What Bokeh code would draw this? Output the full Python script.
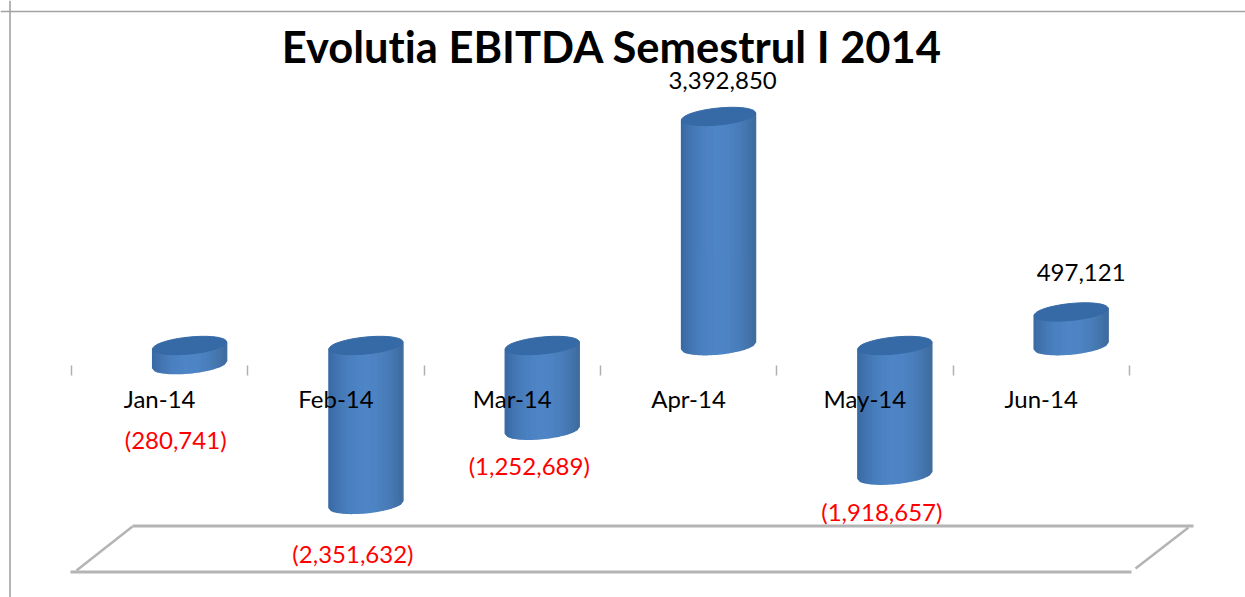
import math
from bokeh.plotting import figure
from bokeh.embed import file_html
from bokeh.resources import INLINE
from bokeh.core.properties import value
from bokeh.models import Range1d, FixedTicker, LinearAxis, Span

# ---- data ----
title_text = "Evolutia EBITDA Semestrul I 2014"
months = ["Jan-14", "Feb-14", "Mar-14", "Apr-14", "May-14", "Jun-14"]
ebitda = [-280741, -2351632, -1252689, 3392850, -1918657, 497121]

# ---- layout (page pixels of the reference) ----
W, H = 1245, 597
PAD = 0
ZERO_PX, PX_PER_UNIT = 345.0, 67.5e-6
TICK0_PX, CAT_PX = 71.0, 176.3
TICK_ROW_PX = 370
BAR_SHIFT_PX, BAR_A, BAR_B, BAR_TILT = 30.0, 37.0, 8.5, 3.5
# data-label placement relative to the end of each bar, in pixels
label_dx = [-14, -13, -13, 4, -13, 10]
label_dy = [75, 49, 35, -36, 36, -39]

def X(px):
    return (px - TICK0_PX) / CAT_PX
def Y(py):
    return (ZERO_PX - py) / PX_PER_UNIT

p = figure(width=W, height=H, output_backend="svg", toolbar_location=None,
           x_range=Range1d(X(PAD), X(PAD + W)), y_range=Range1d(Y(PAD + H), Y(PAD)),
           y_axis_location=None, min_border=0, outline_line_color=None,
           background_fill_color="white", border_fill_color="white")
p.grid.visible = False

# chart frame
BORDER = "#a3a3a3"
p.add_layout(Span(location=Y(11), dimension="width", line_color=BORDER, line_width=1.6))
p.add_layout(Span(location=X(9.5), dimension="height", line_color=BORDER, line_width=1.6))

# floor
FLOOR = "#b4b4b4"
p.line([X(132), X(1193)], [Y(525.5)] * 2, line_color=FLOOR, line_width=3)
p.line([X(70), X(1131)], [Y(571.5)] * 2, line_color=FLOOR, line_width=3)
p.line([X(76), X(132)], [Y(570), Y(526)], line_color=FLOOR, line_width=2.5)
p.line([X(1135), X(1188)], [Y(568), Y(527)], line_color=FLOOR, line_width=2.5)

# cylinders, one gradient strip at a time
def shade(t):
    k = math.sin((t + 1) / 2 * math.pi) ** 0.8
    edge = (56, 103, 160) if t < 0 else (62, 106, 156)
    mid = (78, 133, 198)
    return "#%02x%02x%02x" % tuple(round(e + (m - e) * k) for e, m in zip(edge, mid))

N = 30
sx, sy, sc = [], [], []
ex, ey = [], []
for i, v in enumerate(ebitda):
    cx = TICK0_PX + CAT_PX * (i + 0.5) + BAR_SHIFT_PX
    top_v, bot_v = max(v, 0), min(v, 0)
    top_c, bot_c = ZERO_PX - top_v * PX_PER_UNIT, ZERO_PX - bot_v * PX_PER_UNIT
    def bottom(t):
        return bot_c - BAR_TILT * t + BAR_B * math.sqrt(max(0, 1 - t * t))
    def upper(t):
        return top_c - BAR_TILT * t
    for k in range(N):
        t0, t1 = -1 + 2 * k / N, -1 + 2 * (k + 1) / N
        sx.append([X(cx + BAR_A * t0), X(cx + BAR_A * t1), X(cx + BAR_A * t1), X(cx + BAR_A * t0)])
        sy.append([Y(upper(t0)), Y(upper(t1)), Y(bottom(t1)), Y(bottom(t0))])
        sc.append(shade((t0 + t1) / 2))
    ts = [j / 40 * 2 * math.pi for j in range(41)]
    ex.append([X(cx + BAR_A * math.cos(a)) for a in ts])
    ey.append([Y(top_c - BAR_TILT * math.cos(a) + BAR_B * math.sin(a)) for a in ts])

p.patches(sx, sy, fill_color=sc, line_color=sc, line_width=1.4)
p.patches(ex, ey, fill_color="#356aa6", line_color="#356aa6", line_width=1)

# value labels
lx, ly, lt, lc = [], [], [], []
for i, v in enumerate(ebitda):
    cx = TICK0_PX + CAT_PX * (i + 0.5) + BAR_SHIFT_PX
    end = ZERO_PX - v * PX_PER_UNIT
    lx.append(X(cx + label_dx[i]))
    ly.append(Y(end + label_dy[i]))
    lt.append(f"({abs(v):,})" if v < 0 else f"{v:,}")
    lc.append("#ff0000" if v < 0 else "#000000")
p.text(lx, ly, text=lt, text_color=lc, text_font=value("Lato"), text_font_size="24px",
       text_align="center", text_baseline="middle")

# title
p.text([X(612)], [Y(45)], text=[title_text], text_color="#000000", text_font=value("Lato"),
       text_font_size="43.5px", text_font_style="bold", text_align="center", text_baseline="middle")

# tick row: marks on the category boundaries, names between them
ax = p.xaxis[0]
ax.fixed_location = Y(TICK_ROW_PX)
ax.ticker = FixedTicker(ticks=list(range(len(months) + 1)))
ax.axis_line_color = None
ax.major_tick_line_color = "#b0b0b0"
ax.major_tick_line_width = 1.5
ax.major_tick_in = 5
ax.major_tick_out = 5
ax.minor_tick_line_color = None
ax.major_label_text_font_size = "0px"
ax.major_label_text_color = None

names = LinearAxis(ticker=FixedTicker(ticks=[i + 0.5 for i in range(len(months))]),
                   major_label_overrides={i + 0.5: m for i, m in enumerate(months)})
names.fixed_location = Y(TICK_ROW_PX)
names.axis_line_color = None
names.major_tick_line_color = None
names.minor_tick_line_color = None
names.major_tick_in = 0
names.major_tick_out = 0
names.major_label_standoff = 13
names.major_label_text_font = "Lato"
names.major_label_text_font_size = "24px"
names.major_label_text_color = "#000000"
p.add_layout(names, "below")

html = file_html(p, INLINE)
html = html.replace("</head>", "<style>body{font-variant-ligatures:none;margin:0}</style></head>", 1)
open("out.html", "w").write(html)
